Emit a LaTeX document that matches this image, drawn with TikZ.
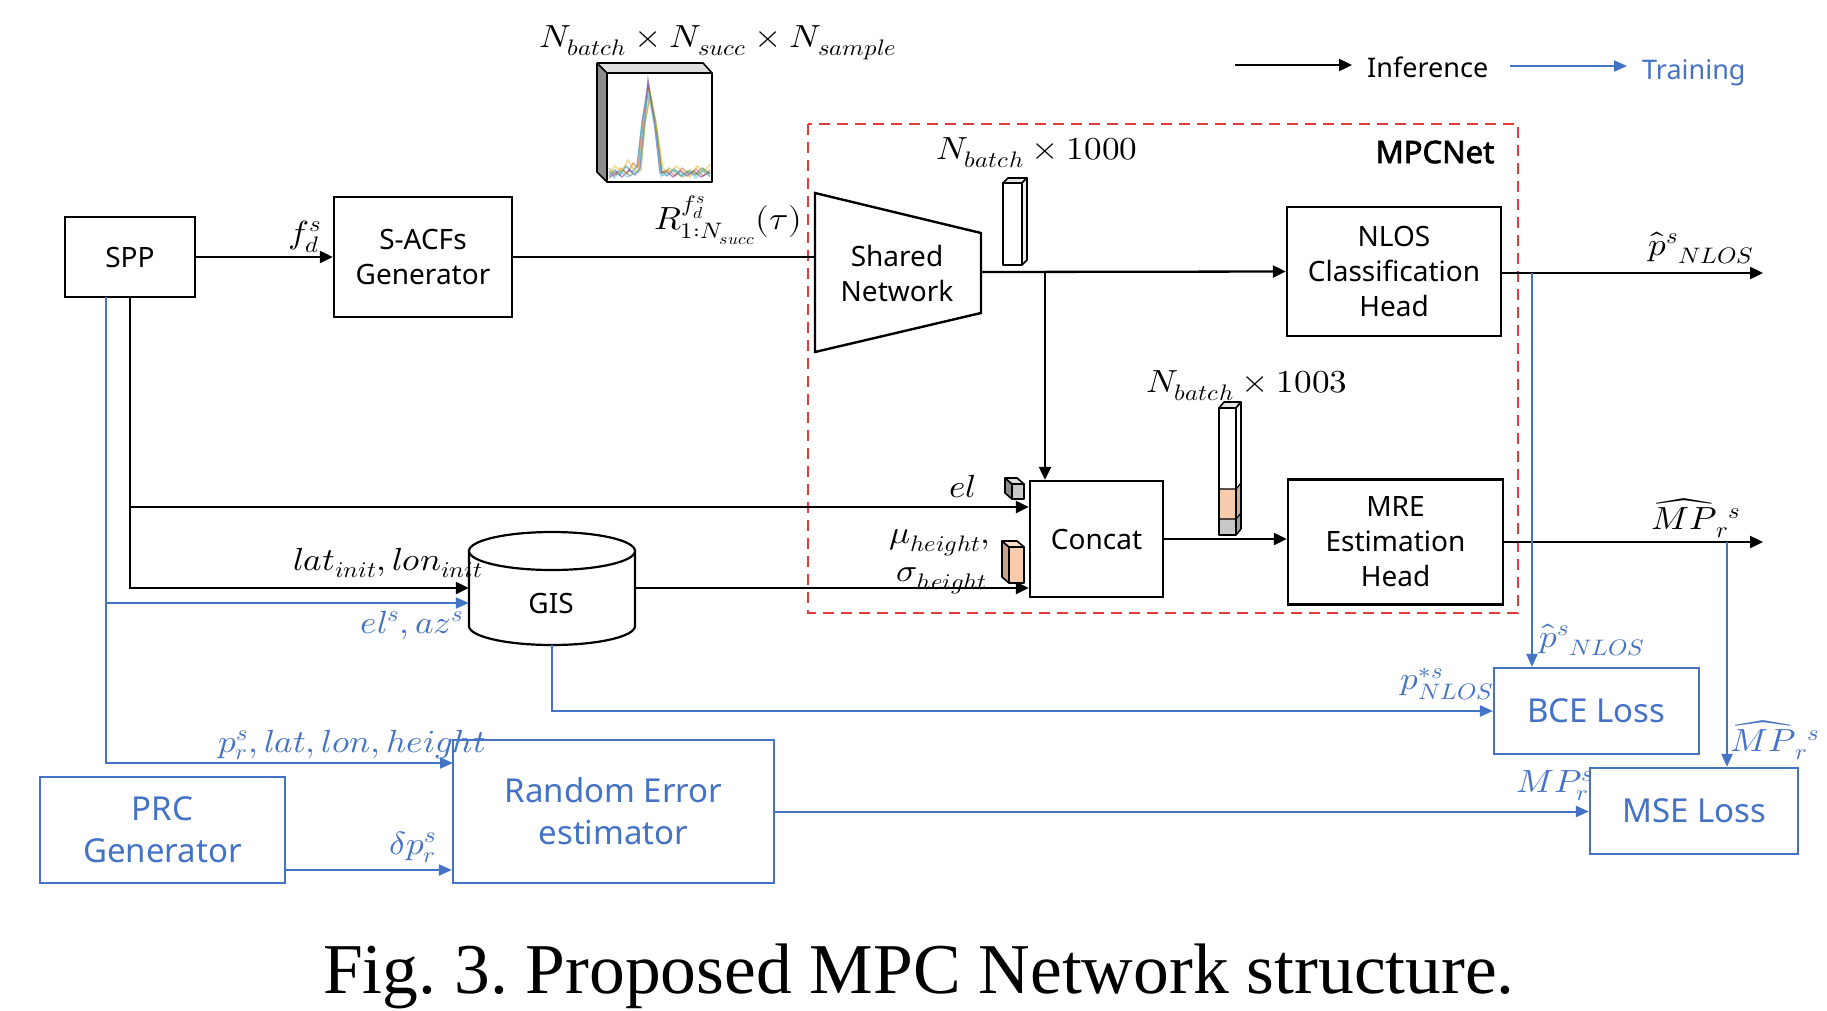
\documentclass[tikz,border=0pt]{standalone}
\usepackage{unicode-math}
\setmathfont{Latin Modern Math}
\newfontfamily\boxfont{Noto Sans}
\newfontfamily\boldboxfont{Noto Sans}[FakeBold=2.2]
\newfontfamily\capfont{Liberation Serif}
\usetikzlibrary{arrows.meta}
\definecolor{tblue}{HTML}{4472C4}
\definecolor{dred}{HTML}{E23B3B}
\definecolor{orng}{HTML}{F8CBAD}
\definecolor{gry}{HTML}{C8C8C8}
\definecolor{dgry}{HTML}{8C8C8C}
\definecolor{mA}{HTML}{0072BD}
\definecolor{mB}{HTML}{D95319}
\definecolor{mC}{HTML}{EDB120}
\definecolor{mD}{HTML}{7E2F8E}
\definecolor{mE}{HTML}{77AC30}
\definecolor{mF}{HTML}{4DBEEE}
\newcommand{\mlab}[1]{\scalebox{1.1}[1]{$#1$}}
\begin{document}
\frenchspacing
\begin{tikzpicture}[x=1pt,y=-1pt,
  box/.style={draw=black, line width=2.4pt, fill=white, inner sep=0pt, align=center,
    font=\boxfont\fontsize{28}{35}\selectfont},
  tbox/.style={draw=tblue, line width=2.2pt, fill=white, inner sep=0pt, align=center,
    text=tblue, font=\boxfont\fontsize{33}{42}\selectfont},
  arr/.style={line width=2.3pt, -{Triangle[length=13pt,width=12pt]}},
  ln/.style={line width=2.3pt},
  tarr/.style={draw=tblue, line width=2pt, -{Triangle[length=13pt,width=11pt]}},
  tln/.style={draw=tblue, line width=2pt},
  mlabel/.style={inner sep=0pt, font=\fontsize{32}{38}\selectfont},
  tlabel/.style={inner sep=0pt, text=tblue, font=\fontsize{32}{38}\selectfont},
  face/.style={draw=black, line width=1.6pt, line join=round},
  acf/.style={line width=1.3pt, opacity=.55},
]
\fill[white] (0,0) rectangle (1827,1010);
\useasboundingbox (0,0) rectangle (1827,1010);

% ---------- legend ----------
\coordinate (lgA) at (1235,65);
\coordinate (lgB) at (1352,65);
\coordinate (lgC) at (1510,66);
\coordinate (lgD) at (1627,66);
\draw[arr] (lgA) -- (lgB);
\draw[tarr] (lgC) -- (lgD);
\node[anchor=base west, inner sep=0pt, font=\boxfont\fontsize{27}{32}\selectfont] (linf) at (1367,77) {Inference};
\node[anchor=base west, inner sep=0pt, text=tblue, font=\boxfont\fontsize{27}{32}\selectfont] (ltrn) at (1642,79) {Training};

% ---------- MPCNet frame ----------
\draw[dred, line width=2.4pt, dash pattern=on 11pt off 7pt] (808,124) rectangle (1518,613);
\node[inner sep=0pt, font=\boldboxfont\fontsize{31}{36}\selectfont] (mpcnet) at (1435,152) {MPCNet};

% ---------- boxes ----------
\node[box, minimum width=130, minimum height=80] (spp) at (130,257) {SPP};
\node[box, minimum width=178, minimum height=120] (sacf) at (423,257) {S-ACFs\\Generator};
\node[box, minimum width=214, minimum height=129] (nlos) at (1394,271.5) {NLOS\\Classification\\Head};
\node[box, minimum width=133, minimum height=116] (concat) at (1096.5,539) {Concat};
\node[box, minimum width=215, minimum height=125] (mre) at (1395.5,542) {MRE\\Estimation\\Head};
\node[tbox, minimum width=205, minimum height=86] (bce) at (1596.5,711) {BCE Loss};
\node[tbox, minimum width=208, minimum height=86] (mse) at (1694,811) {MSE Loss};
\node[tbox, minimum width=321, minimum height=143] (rand) at (613.5,811.5) {Random Error\\estimator};
\node[tbox, minimum width=245, minimum height=106] (prc) at (162.5,830) {PRC\\Generator};

% ---------- shared network (trapezoid) ----------
\coordinate (tzA) at (815,193);
\coordinate (tzB) at (981,233);
\coordinate (tzC) at (981,313);
\coordinate (tzD) at (815,352);
\coordinate (tzIn) at (815,257);
\coordinate (tzOut) at (981,272);
\draw[line width=2.4pt, fill=white, line join=miter] (tzA) -- (tzB) -- (tzC) -- (tzD) -- cycle;
\node[inner sep=0pt, align=center, font=\boxfont\fontsize{28}{35}\selectfont] (shared) at (897,273) {Shared\\Network};

% ---------- GIS cylinder ----------
\draw[line width=2.2pt, fill=white] (469,551) -- (469,626) arc[start angle=180, end angle=360, x radius=83pt, y radius=19pt] -- (635,551);
\draw[line width=2.2pt, fill=white] (552,551) ellipse [x radius=83pt, y radius=19pt];
\node[inner sep=0pt, minimum width=166, minimum height=114] (gis) at (552,588) {};
\node[inner sep=0pt, font=\boxfont\fontsize{28}{35}\selectfont] (gislbl) at (551,603) {GIS};

% ---------- ACF cube picture ----------
\fill[dgry] (607,73) -- (597,63) -- (597,172) -- (607,182) -- cycle;
\fill[gry!60] (607,73) -- (597,63) -- (703,63) -- (712,73) -- cycle;
\draw[face] (607,73) -- (597,63) -- (597,172) -- (607,182);
\draw[face] (597,63) -- (703,63) -- (712,73);
\draw[face, fill=white] (607,73) rectangle (712,182);
\begin{scope}
\clip (608,74) rectangle (711,181);
\draw[acf, mA] (609,176) -- (615,170) -- (620,175) -- (626,166) -- (632,172) -- (637,166) -- (642,122) -- (648,84) -- (655,124) -- (661,170) -- (667,176) -- (674,169) -- (681,176) -- (688,171) -- (695,175) -- (702,168) -- (710,174);
\draw[acf, mB] (609,171) -- (614,176) -- (621,168) -- (627,174) -- (633,163) -- (638,168) -- (643,120) -- (649,88) -- (656,126) -- (662,172) -- (668,170) -- (675,176) -- (682,168) -- (689,174) -- (696,169) -- (703,176) -- (710,170);
\draw[acf, mC] (609,174) -- (615,166) -- (621,172) -- (628,160) -- (634,170) -- (639,165) -- (644,125) -- (650,100) -- (657,130) -- (663,168) -- (669,174) -- (676,166) -- (683,172) -- (690,177) -- (697,166) -- (704,172) -- (710,164);
\draw[acf, mD] (609,178) -- (616,172) -- (622,177) -- (629,170) -- (635,175) -- (640,168) -- (645,118) -- (648,80) -- (654,120) -- (660,173) -- (667,172) -- (673,177) -- (680,171) -- (687,176) -- (694,171) -- (701,177) -- (710,172);
\draw[acf, mE] (609,168) -- (616,175) -- (623,170) -- (630,176) -- (636,171) -- (641,170) -- (645,124) -- (650,92) -- (656,122) -- (662,175) -- (669,168) -- (676,173) -- (683,177) -- (690,170) -- (697,175) -- (704,169) -- (710,176);
\draw[acf, mF] (609,172) -- (614,178) -- (620,171) -- (627,177) -- (633,174) -- (639,172) -- (643,128) -- (648,94) -- (655,128) -- (661,176) -- (668,174) -- (675,170) -- (682,175) -- (689,172) -- (696,178) -- (703,171) -- (710,177);
\end{scope}

% ---------- vector bar 1 (N x 1000) ----------
\draw[face, fill=gry!50] (1003,183) -- (1008,178) -- (1027,178) -- (1022,183) -- cycle;
\draw[face, fill=gry!30] (1022,183) -- (1027,178) -- (1027,260) -- (1022,265) -- cycle;
\draw[face, fill=white] (1003,183) rectangle (1022,265);

% ---------- vector bar 2 (N x 1003) ----------
\draw[face, fill=gry!50] (1219,408) -- (1224,402) -- (1241,402) -- (1236,408) -- cycle;
\fill[white] (1236,408) -- (1241,402) -- (1241,483) -- (1236,489) -- cycle;
\fill[orng!85!black] (1236,489) -- (1241,483) -- (1241,513) -- (1236,519) -- cycle;
\fill[gry!80!black] (1236,519) -- (1241,513) -- (1241,529) -- (1236,535) -- cycle;
\draw[face] (1236,408) -- (1241,402) -- (1241,529) -- (1236,535);
\fill[white] (1219,408) rectangle (1236,489);
\fill[orng] (1219,489) rectangle (1236,519);
\fill[gry] (1219,519) rectangle (1236,535);
\draw[face] (1219,408) rectangle (1236,535);
\draw[line width=1.2pt] (1219,489) -- (1236,489) -- (1241,483);
\draw[line width=1.2pt] (1219,519) -- (1236,519) -- (1241,513);

% ---------- small cubes at Concat ----------
\draw[face, fill=dgry] (1012,484) -- (1005,478) -- (1005,493) -- (1012,499) -- cycle;
\draw[face, fill=gry!60] (1012,484) -- (1005,478) -- (1017,478) -- (1024,484) -- cycle;
\draw[face, fill=gry] (1012,484) rectangle (1024,499);
\draw[face, fill=orng!80!black] (1009,547) -- (1002,541) -- (1002,577) -- (1009,583) -- cycle;
\draw[face, fill=orng!70] (1009,547) -- (1002,541) -- (1017,541) -- (1024,547) -- cycle;
\draw[face, fill=orng] (1009,547) rectangle (1024,583);

% ---------- inference connectors ----------
\draw[arr] (spp.east) -- (sacf.west);
\draw[ln] (sacf.east) -- (tzIn);
\coordinate (brA) at (1045,272);
\draw[arr] (tzOut) -- (nlos.west);
\draw[arr] (brA) -- (brA |- concat.north);
\coordinate (sppEl) at (130,507);
\draw[arr] (spp.south) |- (gis.west);
\draw[arr] (sppEl) -- (sppEl -| concat.west);
\draw[arr] (gis.east) -- (gis.east -| concat.west);
\draw[arr] (concat.east) -- (concat.east -| mre.west);
\coordinate (outA) at (1763,273);
\coordinate (outB) at (1763,542);
\draw[arr] (nlos.east |- outA) -- (outA);
\draw[arr] (mre.east) -- (outB);

% ---------- training connectors ----------
\coordinate (tA) at (1532,273);
\coordinate (tB) at (1727,542);
\draw[tarr] (tA) -- (tA |- bce.north);
\draw[tarr] (tB) -- (tB |- mse.north);
\draw[tarr] (gis.south) |- (bce.west);
\draw[tarr] (rand.east) -- (rand.east -| mse.west);
\coordinate (prcOut) at (285,870);
\draw[tarr] (prcOut) -- (prcOut -| rand.west);
\coordinate (sppB) at (106,297);
\coordinate (randIn) at (453,763);
\draw[tarr] (sppB) |- (randIn);
\coordinate (sppG) at (106,603);
\draw[tarr] (sppG) -- (sppG -| gis.west);

% ---------- math labels ----------
\node[mlabel] (lsize) at (718,43) {\mlab{N_{batch}\times N_{succ}\times N_{sample}}};
\node[mlabel] (lfd) at (305,237) {\mlab{f_d^{s}}};
\node[mlabel] (lR) at (728,220) {\mlab{R^{f_d^{s}}_{1:N_{succ}}(\tau)}};
\node[mlabel] (l1000) at (1037,153) {\mlab{N_{batch}\times 1000}};
\node[mlabel] (l1003) at (1247,386) {\mlab{N_{batch}\times 1003}};
\node[mlabel] (lpn) at (1701,248) {\mlab{\hat{p}^{s}{}_{NLOS}}};
\node[mlabel] (lmp) at (1696,518) {\mlab{\widehat{MP}_{r}{}^{s}}};
\node[mlabel] (lel) at (963,487) {\mlab{el}};
\node[mlabel] (lmu) at (940,543) {\mlab{\mu_{height},}};
\node[mlabel] (lsig) at (942,581) {\mlab{\sigma_{height}}};
\node[mlabel] (llat) at (388,563) {\mlab{lat_{init}, lon_{init}}};
\node[tlabel] (lelaz) at (412,625) {\mlab{el^{s}, az^{s}}};
\node[tlabel] (lpn2) at (1592,640) {\mlab{\hat{p}^{s}{}_{NLOS}}};
\node[tlabel] (lpstar) at (1447,684) {\mlab{p^{*s}_{NLOS}}};
\node[tlabel] (lmp2) at (1775,740) {\mlab{\widehat{MP}_{r}{}^{s}}};
\node[tlabel] (lmpr) at (1555,786) {\mlab{MP^{s}_{r}}};
\node[tlabel] (lpr) at (352,745) {\mlab{p^{s}_{r}, lat, lon, height}};
\node[tlabel] (ldp) at (413,847) {\mlab{\delta p^{s}_{r}}};

% ---------- caption ----------
\node[anchor=base, inner sep=0pt, font=\capfont\fontsize{71.5}{80}\selectfont] (cap) at (919,993) {Fig. 3. Proposed MPC Network structure.};
\end{tikzpicture}
\end{document}
